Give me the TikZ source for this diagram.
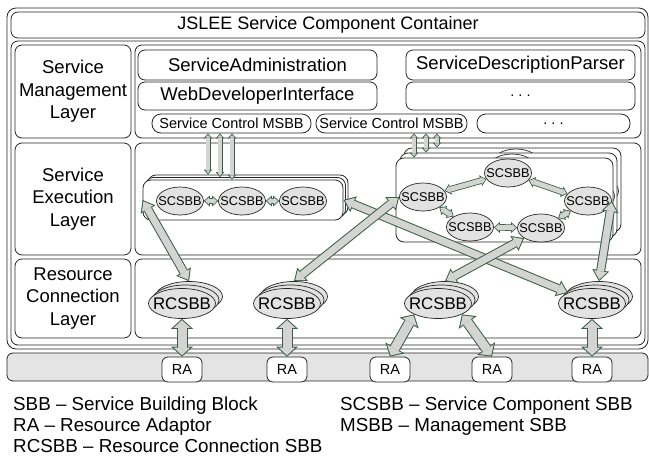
\documentclass[tikz,border=0pt]{standalone}
\usepackage{fontspec}
\setmainfont{Liberation Sans}
\usetikzlibrary{arrows.meta,shapes.geometric}

\definecolor{arrline}{HTML}{3A5F40}
\definecolor{arrfill}{HTML}{D4D4D4}
\definecolor{ellfill}{HTML}{E2E2E2}
\definecolor{barfill}{HTML}{E4E4E4}

\tikzset{
  box/.style={draw=black!85, line width=0.8pt, fill=white, rounded corners=#1, inner sep=0pt},
  box/.default=7pt,
  bigtxt/.style={font=\fontsize{18.5}{22.5}\selectfont},
  midtxt/.style={font=\fontsize{14.5}{16}\selectfont},
  legtxt/.style={font=\fontsize{18.8}{21}\selectfont, inner sep=0pt, anchor=base west},
  scsbb/.style={ellipse, draw=black!85, line width=0.7pt, fill=ellfill, minimum width=47pt, minimum height=28pt, inner sep=0pt,
    label={[inner sep=0pt, font=\fontsize{12.7}{14}\selectfont]center:SCSBB}},
  scback/.style={ellipse, draw=black!85, line width=0.7pt, fill=white, minimum width=47pt, minimum height=28pt, inner sep=0pt},
  rcback/.style={ellipse, draw=black!85, line width=0.7pt, fill=ellfill, minimum width=67pt, minimum height=30pt, inner sep=0pt},
  rcsbb/.style={rcback, label={[inner sep=0pt, font=\fontsize{16.8}{18}\selectfont]center:RCSBB}},
  % hollow arrows: green outline, grey inside
  thin/.style={draw=arrline, line width=5pt,
    {Triangle[length=5pt,width=8.5pt,line width=0pt]}-{Triangle[length=5pt,width=8.5pt,line width=0pt]},
    postaction={draw=arrfill, line width=3.4pt, shorten <=1.3pt, shorten >=1.3pt,
      {Triangle[length=2.9pt,width=5pt,line width=0pt]}-{Triangle[length=2.9pt,width=5pt,line width=0pt]}}},
  small/.style={draw=arrline, line width=6.5pt,
    {Triangle[length=6pt,width=11pt,line width=0pt]}-{Triangle[length=6pt,width=11pt,line width=0pt]},
    postaction={draw=arrfill, line width=4.9pt, shorten <=1.2pt, shorten >=1.2pt,
      {Triangle[length=4pt,width=7.3pt,line width=0pt]}-{Triangle[length=4pt,width=7.3pt,line width=0pt]}}},
  long/.style={draw=arrline, line width=9pt,
    {Triangle[length=11pt,width=17pt,line width=0pt]}-{Triangle[length=11pt,width=17pt,line width=0pt]},
    postaction={draw=arrfill, line width=7pt, shorten <=1.6pt, shorten >=1.6pt,
      {Triangle[length=8.4pt,width=13pt,line width=0pt]}-{Triangle[length=8.4pt,width=13pt,line width=0pt]}}},
  fat/.style={draw=arrline, line width=11pt,
    {Triangle[length=10pt,width=22pt,line width=0pt]}-{Triangle[length=10pt,width=22pt,line width=0pt]},
    postaction={draw=arrfill, line width=9pt, shorten <=1.35pt, shorten >=1.35pt,
      {Triangle[length=7.65pt,width=16.8pt,line width=0pt]}-{Triangle[length=7.65pt,width=16.8pt,line width=0pt]}}},
}

\begin{document}
\begin{tikzpicture}[x=1pt, y=-1pt]
\useasboundingbox (0,0) rectangle (649,456);

% container and layers
\node [box=9pt, minimum width=641pt, minimum height=341pt] (outer) at (327.5,178.5) {};
\node [box, minimum width=634pt, minimum height=26pt, font=\fontsize{18}{21}\selectfont] (head) at (328,25) {JSLEE Service Component Container};
\node [box, minimum width=634pt, minimum height=304pt] (inner) at (328,193) {};
\node [box, bigtxt, align=center, minimum width=116pt, minimum height=93pt] (lab1) at (73,91.5) {Service\\Management\\Layer};
\node [box, bigtxt, align=center, minimum width=116pt, minimum height=112pt] (lab2) at (73,199) {Service\\Execution\\Layer};
\node [box, bigtxt, align=center, minimum width=116pt, minimum height=79pt] (lab3) at (73,298.5) {Resource\\Connection\\Layer};
\node [box, minimum width=506pt, minimum height=93pt] (row1) at (388,91.5) {};
\node [box, minimum width=506pt, minimum height=112pt] (row2) at (388,199) {};
\node [box, minimum width=506pt, minimum height=79pt] (row3) at (388,298.5) {};

% management layer
\node [box, bigtxt, minimum width=239pt, minimum height=30pt] (sadmin) at (257.5,65) {ServiceAdministration};
\node [box, bigtxt, minimum width=239pt, minimum height=28pt] (webdev) at (257.5,96) {WebDeveloperInterface};
\node [box, bigtxt, minimum width=229pt, minimum height=30pt] (sdparse) at (520.5,65) {ServiceDescriptionParser};
\node [box, midtxt, minimum width=229pt, minimum height=28pt] (more1) at (520.5,96) {.\ .\ .};
\node [box=9pt, midtxt, minimum width=159pt, minimum height=19pt] (msbb1) at (231.5,123.5) {Service Control MSBB};
\node [box=9pt, midtxt, minimum width=151pt, minimum height=19pt] (msbb2) at (391.5,123.5) {Service Control MSBB};
\node [box=9pt, midtxt, minimum width=153pt, minimum height=19pt] (more2) at (553.5,123.5) {.\ .\ .};

% execution layer, left group
\node [box=8pt, minimum width=200pt, minimum height=40pt] (lgrp2) at (248,195) {};
\node [box=8pt, minimum width=200pt, minimum height=40pt] (lgrp1) at (245.5,197.5) {};
\node [box=8pt, minimum width=200pt, minimum height=40pt] (lgrp) at (243,200) {};
\node [scsbb] (sa) at (180,201) {};
\node [scsbb] (sb) at (242,201) {};
\node [scsbb] (sc) at (303,201) {};
\draw [small] (sa) -- (sb);
\draw [small] (sb) -- (sc);

% execution layer, right group
\node [box=8pt, minimum width=217pt, minimum height=84pt] (rgrp2) at (512.5,190) {};
\node [scback] at (516,163) {};
\node [scback] at (595,191) {};
\node [box=8pt, minimum width=217pt, minimum height=84pt] (rgrp1) at (508.5,195) {};
\node [scback] at (512,168) {};
\node [scback] at (591,196) {};
\node [box=8pt, minimum width=217pt, minimum height=84pt] (rgrp) at (504.5,200) {};
\node [scsbb] (sd) at (423,197) {};
\node [scsbb] (se) at (508,173) {};
\node [scsbb] (sf) at (588,201) {};
\node [scsbb] (sg) at (470,227) {};
\node [scsbb] (sh) at (541,228) {};
\draw [small] (sd) -- (se);
\draw [small] (se) -- (sf);
\draw [small] (sf) -- (sh);
\draw [small] (sh) -- (sg);
\draw [small] (sg) -- (sd);

% management to execution
\coordinate (m1) at ([xshift=-23.5pt]msbb1.south);
\coordinate (m2) at ([xshift=-11.5pt]msbb1.south);
\coordinate (m3) at ([xshift=0.5pt]msbb1.south);
\draw [thin] (m1) -- (m1 |- lgrp2.north);
\draw [thin] (m2) -- (m2 |- lgrp1.north);
\draw [thin] (m3) -- (m3 |- lgrp.north);
\coordinate (m4) at ([xshift=22.5pt]msbb2.south);
\coordinate (m5) at ([xshift=34.5pt]msbb2.south);
\coordinate (m6) at ([xshift=45.5pt]msbb2.south);
\draw [thin] (m4) -- (m4 |- rgrp.north);
\draw [thin] (m5) -- (m5 |- rgrp1.north);
\draw [thin] (m6) -- (m6 |- rgrp2.north);

% resource connection layer
\node [rcback] (rc1b) at (189,296.5) {};
\node [rcback] (rc1a) at (185.5,300) {};
\node [rcsbb] (rc1) at (182,303.5) {};
\node [rcback] (rc2b) at (294,296.5) {};
\node [rcback] (rc2a) at (290.5,300) {};
\node [rcsbb] (rc2) at (287,303.5) {};
\node [rcback] (rc3b) at (445,296.5) {};
\node [rcback] (rc3a) at (441.5,300) {};
\node [rcsbb] (rc3) at (438,303.5) {};
\node [rcback] (rc4b) at (599,296.5) {};
\node [rcback] (rc4a) at (595.5,300) {};
\node [rcsbb] (rc4) at (592,303.5) {};

\draw [long] (lgrp.west) -- (rc1b.north);
\draw [long] (lgrp.east) -- (rc4.north west);
\draw [long] (sd.west) -- (rc2b.north);
\draw [long] (sh.south west) -- (rc3b.north);
\draw [long] (sf.east) -- (rc4b.north);

% adaptors
\node [box=6pt, fill=barfill, minimum width=641pt, minimum height=28pt] (bar) at (327.5,367) {};
\node [box=6pt, midtxt, minimum width=40pt, minimum height=25pt] (ra1) at (182,369.5) {RA};
\node [box=6pt, midtxt, minimum width=40pt, minimum height=25pt] (ra2) at (287,369.5) {RA};
\node [box=6pt, midtxt, minimum width=40pt, minimum height=25pt] (ra3) at (390,369.5) {RA};
\node [box=6pt, midtxt, minimum width=40pt, minimum height=25pt] (ra4) at (492,369.5) {RA};
\node [box=6pt, midtxt, minimum width=40pt, minimum height=25pt] (ra5) at (592,369.5) {RA};
\draw [fat] (rc1.south) -- (ra1.north);
\draw [fat] (rc2.south) -- (ra2.north);
\draw [fat] (rc3.south west) -- (ra3.north);
\draw [fat] (rc3.south east) -- (ra4.north);
\draw [fat] (rc4.south) -- (ra5.north);

% legend
\node [legtxt] (leg1) at (13,410) {SBB – Service Building Block};
\node [legtxt] (leg2) at (13,431) {RA – Resource Adaptor};
\node [legtxt] (leg3) at (13,452) {RCSBB – Resource Connection SBB};
\node [legtxt] (leg4) at (340,410) {SCSBB – Service Component SBB};
\node [legtxt] (leg5) at (340,431) {MSBB – Management SBB};
\end{tikzpicture}
\end{document}
